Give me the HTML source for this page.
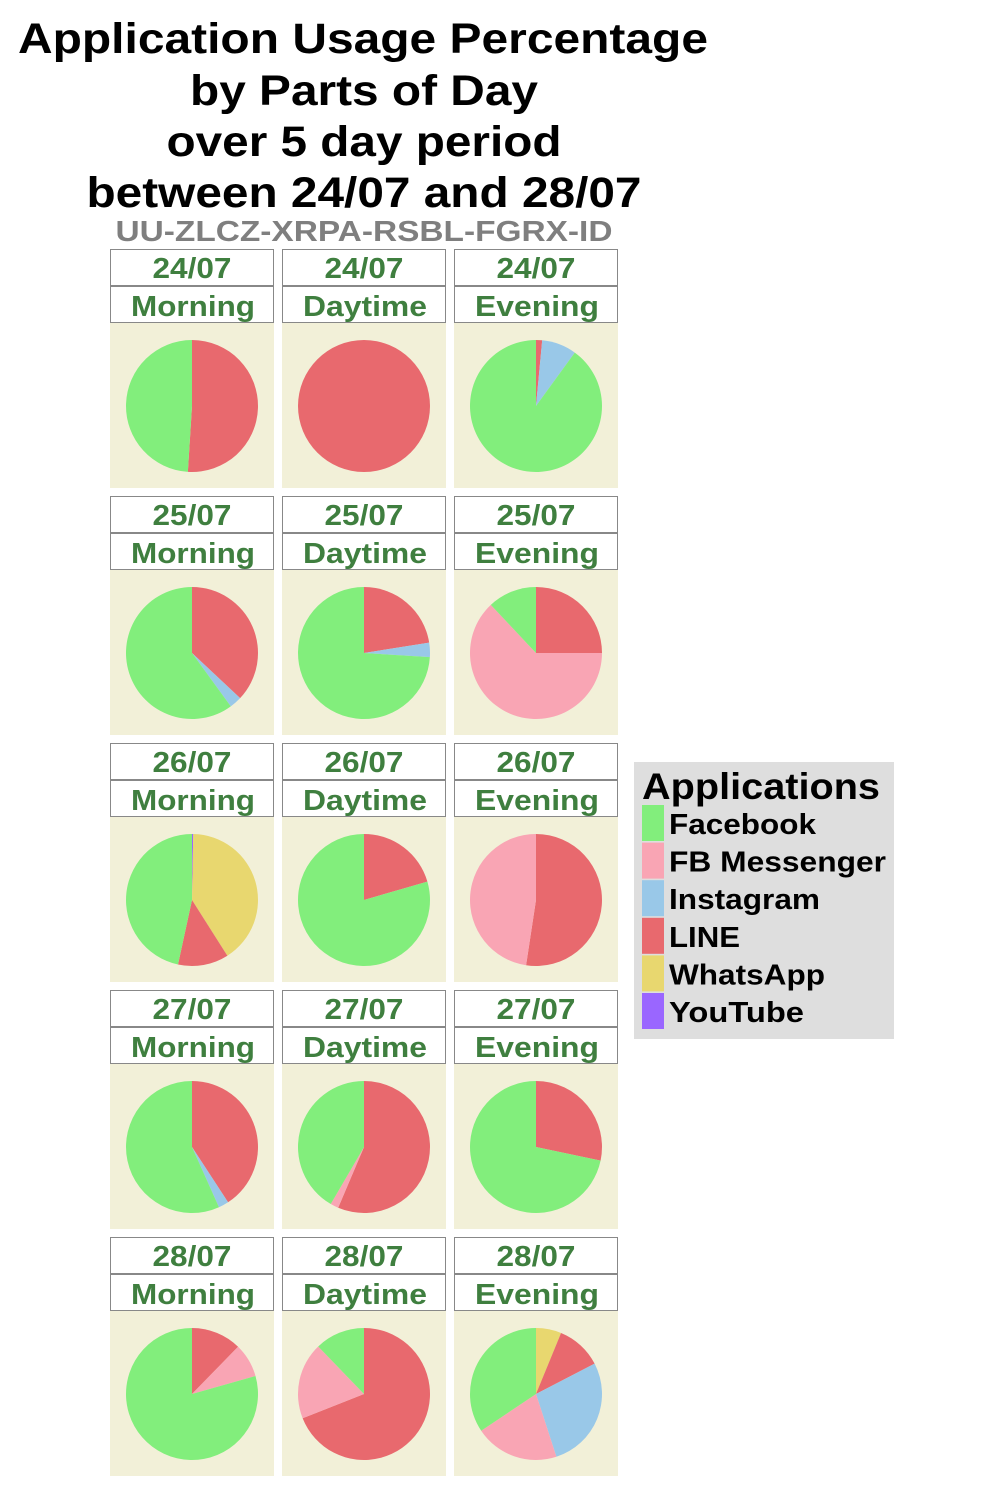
<!DOCTYPE html>
<html><head><meta charset="utf-8"><style>
body{margin:0;background:#fff;}
svg text{font-family:"Liberation Sans",sans-serif;font-weight:bold;}
</style></head><body>
<svg id="chart" width="1000" height="1500" xmlns="http://www.w3.org/2000/svg">
<g font-size="43" text-anchor="middle" fill="#000" lengthAdjust="spacingAndGlyphs">
<text x="363" y="53" textLength="690" lengthAdjust="spacingAndGlyphs">Application Usage Percentage</text>
<text x="364" y="105" textLength="348" lengthAdjust="spacingAndGlyphs">by Parts of Day</text>
<text x="364" y="156" textLength="395" lengthAdjust="spacingAndGlyphs">over 5 day period</text>
<text x="364" y="207" textLength="555" lengthAdjust="spacingAndGlyphs">between 24/07 and 28/07</text>
</g>
<text x="364" y="241" font-size="29" fill="#7f7f7f" text-anchor="middle" textLength="497" lengthAdjust="spacingAndGlyphs">UU-ZLCZ-XRPA-RSBL-FGRX-ID</text>
<g id="panels"></g>
<g>
<rect x="634" y="762" width="260" height="277" fill="#dedede"/>
<text x="642" y="799" font-size="37" fill="#000" textLength="238" lengthAdjust="spacingAndGlyphs">Applications</text>
<g id="legend-items"></g>
</g>
</svg>
<script>
const apps=["Facebook","FB Messenger","Instagram","LINE","WhatsApp","YouTube"];
const colors=["#82ee7c","#f9a5b4","#99c8e8","#e8696e","#e8d76f","#9a66ff"];
const days=["24/07","25/07","26/07","27/07","28/07"];
const parts=["Morning","Daytime","Evening"];
// values [Facebook, FB Messenger, Instagram, LINE, WhatsApp, YouTube] per day/part
const facebook=[[49,0,90],[60,74,12],[46.6,79.5,0],[56.7,41.6,71.7],[79.4,12.2,34.4]];
const messenger=[[0,0,0],[0,0,63],[0,0,47.6],[0,2,0],[8.3,18.8,20.6]];
const instagram=[[0,0,8.5],[3,3.5,0],[0,0,0],[2.5,0,0],[0,0,27.6]];
const line=[[51,100,1.5],[37,22.5,25],[12.4,20.5,52.4],[40.8,56.4,28.3],[12.3,69,11.2]];
const whatsapp=[[0,0,0],[0,0,0],[40.7,0,0],[0,0,0],[0,0,6.2]];
const youtube=[[0,0,0],[0,0,0],[0.3,0,0],[0,0,0],[0,0,0]];
const series=[facebook,messenger,instagram,line,whatsapp,youtube];
const legendWidths=[147,217,151,71,156,135];
const NS="http://www.w3.org/2000/svg";
const P=document.getElementById("panels");
function mk(t,a,par){const e=document.createElementNS(NS,t);for(const k in a)e.setAttribute(k,a[k]);par.appendChild(e);return e;}
const colX=[110,282,454], W=164, rowY0=249, rowStep=247;
function pt(cx,cy,r,f){const a=f*2*Math.PI;return [cx+r*Math.sin(a),cy-r*Math.cos(a)];}
days.forEach((d,ri)=>{parts.forEach((p,ci)=>{
 const x=colX[ci], y=rowY0+ri*rowStep;
 const g=mk("g",{},P);
 
 
 const s1=mk("rect",{x:x+0.5,y:y+0.5,width:W-1,height:36,fill:"#fff",stroke:"#888"},g);
 
 
 const t1=mk("text",{x:x+W/2,y:y+29,"font-size":29,fill:"#3f7f3f","text-anchor":"middle",textLength:79,lengthAdjust:"spacingAndGlyphs"},g);t1.textContent=d;
 
 
 mk("rect",{x:x+0.5,y:y+37.5,width:W-1,height:36,fill:"#fff",stroke:"#888"},g);
 const t2=mk("text",{x:x+W/2+1,y:y+67,"font-size":29,fill:"#3f7f3f","text-anchor":"middle",textLength:124,lengthAdjust:"spacingAndGlyphs"},g);t2.textContent=p;
 
 
 const bg=mk("rect",{x:x,y:y+74,width:W,height:165,fill:"#f2f0d8"},g);
 
 
 const cx=x+W/2, cy=y+157, r=66;
 const vals=series.map(s=>s[ri][ci]); const tot=vals.reduce((a,b)=>a+b,0);
 let cum=0;
 for(let k=apps.length-1;k>=0;k--){
  const v=vals[k]; if(v<=0) continue;
  const f0=cum/tot, f1=(cum+v)/tot; cum+=v;
  let el;
  if(f1-f0>=0.9999){el=mk("circle",{cx:cx,cy:cy,r:r,fill:colors[k]},g);}
  else{const a=pt(cx,cy,r,f0),b=pt(cx,cy,r,f1);
   el=mk("path",{d:`M${cx},${cy}L${a[0]},${a[1]}A${r},${r} 0 ${f1-f0>0.5?1:0} 1 ${b[0]},${b[1]}Z`,fill:colors[k]},g);}
  
  
 }
});});
const L=document.getElementById("legend-items");
apps.forEach((a,i)=>{
 const y=805+i*37.6;
 const r=mk("rect",{x:642,y:y,width:22,height:36,fill:colors[i]},L);
 
 
 const t=mk("text",{x:669,y:y+29,"font-size":29,fill:"#000",textLength:legendWidths[i],lengthAdjust:"spacingAndGlyphs"},L);t.textContent=a;
 
 
});
</script>
</body></html>
